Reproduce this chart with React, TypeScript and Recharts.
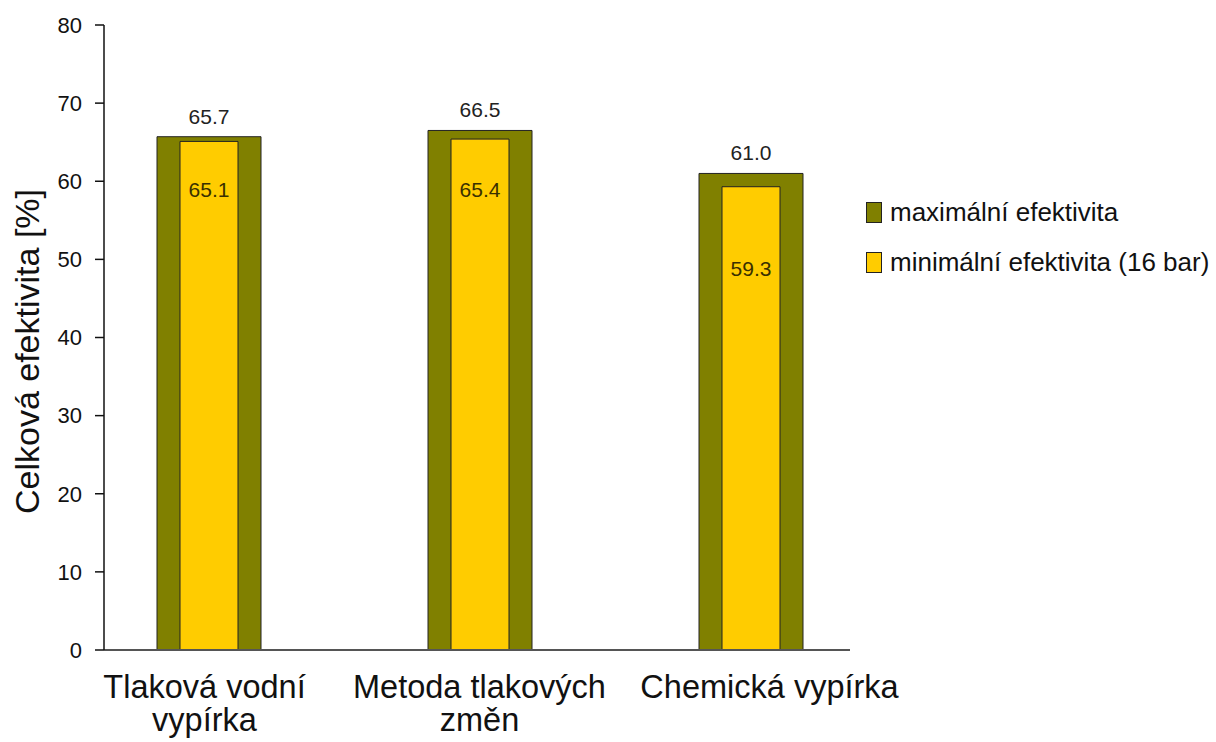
import React from 'react';
import { BarChart, Bar, XAxis, YAxis, Legend, LabelList } from 'recharts';

const categories = ['Tlaková vodní vypírka', 'Metoda tlakových změn', 'Chemická vypírka'];
const categoryLines = [['Tlaková vodní', 'vypírka'], ['Metoda tlakových', 'změn'], ['Chemická vypírka']];
const maxEfficiency = [65.7, 66.5, 61.0];
const minEfficiency = [65.1, 65.4, 59.3];
const yTicks = [0, 10, 20, 30, 40, 50, 60, 70, 80];
const seriesNames = ['maximální efektivita', 'minimální efektivita (16 bar)'];

const OLIVE = '#808000';
const YELLOW = '#ffcc00';
const FONT = '"Liberation Sans", Arial, sans-serif';

const data = categories.map((name, i) => ({
  name,
  max: maxEfficiency[i],
  min: minEfficiency[i],
}));

// small layout nudges copied from the original (label offsets per category)
const minLabelOffset = [56, 58, 89];
const tickShift = [-4, 0, 19];

const CategoryTick = (props: any) => {
  const { x, y, index } = props;
  const lines = categoryLines[index] || [];
  const tx = x + (tickShift[index] || 0);
  return (
    <text x={tx} y={y} textAnchor="middle" fontFamily={FONT} fontSize={32.5} fill="#111">
      {lines.map((l, i) => (
        <tspan key={i} x={tx} dy={i === 0 ? 40 : 33}>{l}</tspan>
      ))}
    </text>
  );
};

const MinLabel = (props: any) => {
  const { x, y, width, value, index } = props;
  return (
    <text
      x={x + width / 2}
      y={y + minLabelOffset[index]}
      textAnchor="middle"
      fontFamily={FONT}
      fontSize={21}
      fill="#3a3000"
    >
      {Number(value).toFixed(1)}
    </text>
  );
};

const MaxLabel = (props: any) => {
  const { x, y, width, value } = props;
  return (
    <text x={x + width / 2} y={y - 13} textAnchor="middle" fontFamily={FONT} fontSize={21} fill="#222">
      {Number(value).toFixed(1)}
    </text>
  );
};

const LegendContent = () => (
  <div style={{ fontFamily: FONT, fontSize: 26, color: '#111' }}>
    {seriesNames.map((n, i) => (
      <div key={n} style={{ display: 'flex', alignItems: 'center', height: 30, marginBottom: 20 }}>
        <span
          style={{
            display: 'inline-block',
            width: 14,
            height: 19,
            background: i === 0 ? OLIVE : YELLOW,
            border: '1px solid #222',
            marginRight: 8,
          }}
        />
        <span>{n}</span>
      </div>
    ))}
  </div>
);

const YLabel = (props: any) => {
  const { viewBox } = props;
  const cx = viewBox.x + 27;
  const cy = viewBox.y + viewBox.height / 2 + 14;
  return (
    <text
      x={cx}
      y={cy}
      transform={`rotate(-90, ${cx}, ${cy})`}
      textAnchor="middle"
      dominantBaseline="central"
      fontFamily={FONT}
      fontSize={34}
      fill="#111"
    >
      Celková efektivita [%]
    </text>
  );
};

export default function App() {
  return (
    <div style={{ position: 'absolute', left: 0, top: 0, width: 1216, height: 742, background: '#fff' }}>
      <BarChart
        width={1216}
        height={742}
        data={data}
        margin={{ top: 25, right: 16, bottom: 0, left: 0 }}
        barGap={0}
      >
        <XAxis
          xAxisId="main"
          dataKey="name"
          height={92}
          padding={{ left: -31, right: -36 }}
          tickLine={false}
          axisLine={{ stroke: '#555', strokeWidth: 2 }}
          tick={<CategoryTick />}
          interval={0}
        />
        <XAxis xAxisId="inner" dataKey="name" hide height={0} padding={{ left: -31, right: -36 }} />
        <YAxis
          width={104}
          domain={[0, 80]}
          ticks={yTicks}
          interval={0}
          tickSize={9}
          tickMargin={13}
          axisLine={{ stroke: '#111', strokeWidth: 1.5 }}
          tickLine={{ stroke: '#111', strokeWidth: 1.5 }}
          tick={{ fontFamily: FONT, fontSize: 22, fill: '#111' }}
          label={<YLabel />}
        />
        <Legend
          layout="vertical"
          align="right"
          verticalAlign="top"
          content={<LegendContent />}
          wrapperStyle={{ left: 866, top: 197, width: 350 }}
        />
        <Bar
          xAxisId="main"
          dataKey="max"
          name={seriesNames[0]}
          fill={OLIVE}
          stroke="#222"
          strokeWidth={1}
          barSize={104}
          isAnimationActive={false}
        >
          <LabelList dataKey="max" content={<MaxLabel />} />
        </Bar>
        <Bar
          xAxisId="inner"
          dataKey="min"
          name={seriesNames[1]}
          fill={YELLOW}
          stroke="#222"
          strokeWidth={1}
          barSize={58}
          isAnimationActive={false}
        >
          <LabelList dataKey="min" content={<MinLabel />} />
        </Bar>
      </BarChart>
    </div>
  );
}
